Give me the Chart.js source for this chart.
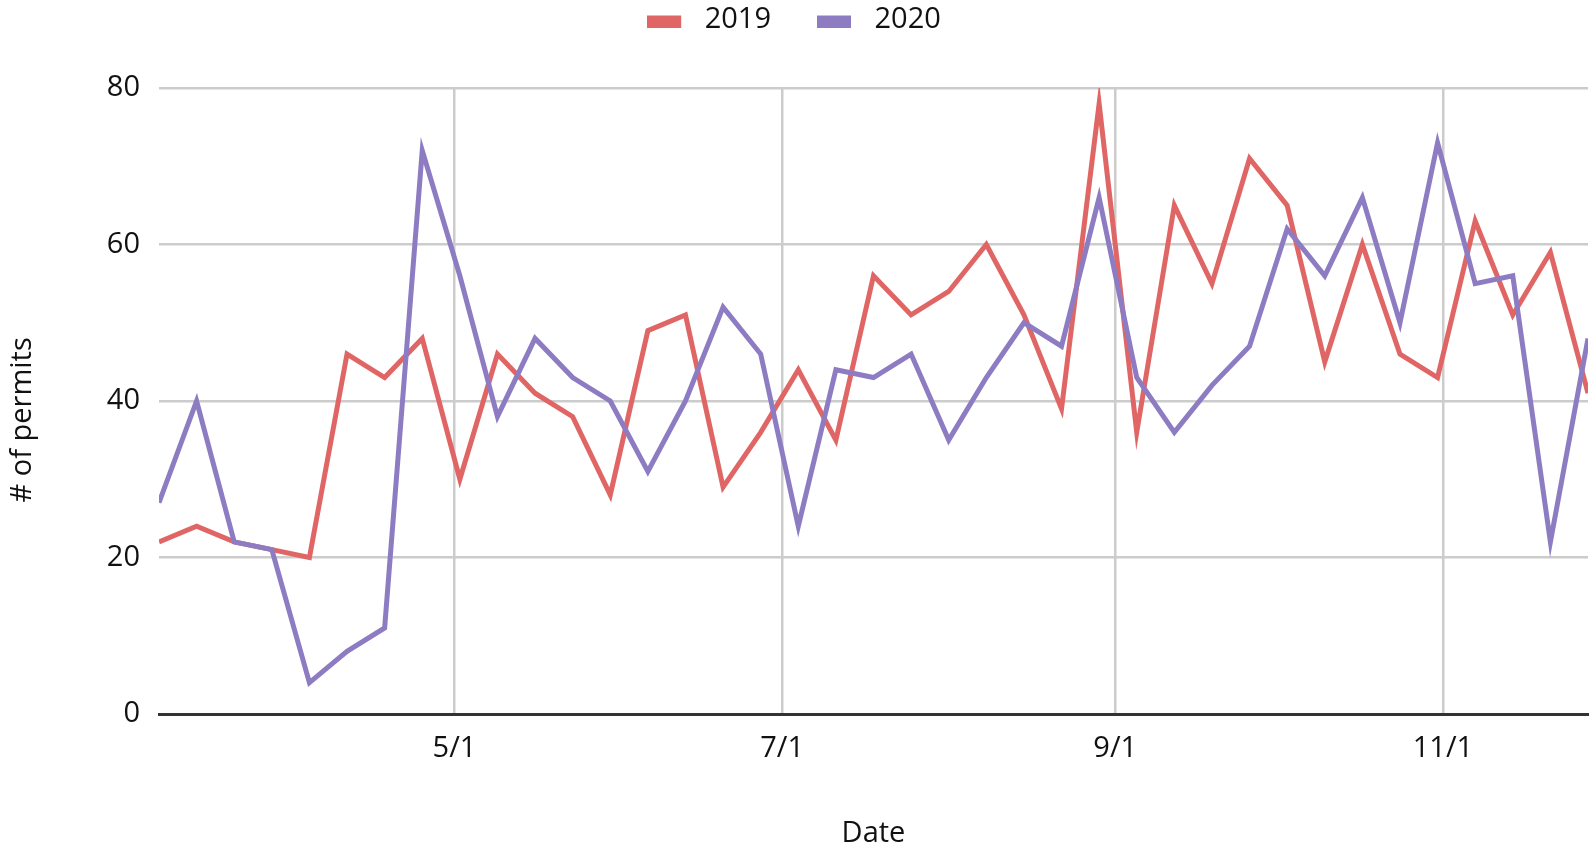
<!DOCTYPE html>
<html>
<head>
<meta charset="utf-8">
<script src="https://cdn.jsdelivr.net/npm/chart.js@4.4.1/dist/chart.umd.min.js"></script>
<style>
html, body { margin: 0; padding: 0; background: #ffffff; }
#wrap { width: 1589px; height: 851px; }
</style>
</head>
<body>
<div id="wrap"><canvas id="c" width="1589" height="851"></canvas></div>
<script>
// ---- data ----
const weekDates = ['3/7','3/14','3/21','3/28','4/4','4/11','4/18','4/25','5/2','5/9','5/16','5/23','5/30',
  '6/6','6/13','6/20','6/27','7/4','7/11','7/18','7/25','8/1','8/8','8/15','8/22','8/29',
  '9/5','9/12','9/19','9/26','10/3','10/10','10/17','10/24','10/31','11/7','11/14','11/21','11/28'];
const permits2019 = [22,24,22,21,20,46,43,48,30,46,41,38,28,49,51,29,36,44,35,56,51,54,60,51,39,78,36,65,55,71,65,45,60,46,43,63,51,59,41];
const permits2020 = [27,40,22,21,4,8,11,72,56,38,48,43,40,31,40,52,46,24,44,43,46,35,43,50,47,66,43,36,42,47,62,56,66,50,73,55,56,22,48];
const seriesLabels = ['2019', '2020'];
const xTickLabels = ['5/1','7/1','9/1','11/1'];
const yTickValues = [0,20,40,60,80];

// ---- helpers ----
const monthStart = [0,31,59,90,120,151,181,212,243,273,304,334];
function dayNum(s) { const p = s.split('/'); return monthStart[+p[0]-1] + (+p[1]); }
const xTickValues = xTickLabels.map(dayNum);

const RED = '#e06666', PURPLE = '#8e7cc3';
const FONT = "'Open Sans', 'Noto Sans', sans-serif";
const TXT = '#111111';

function swatch(color) {
  const c = document.createElement('canvas');
  c.width = 43; c.height = 16;
  const g = c.getContext('2d');
  g.fillStyle = color;
  g.fillRect(0, 4, 34, 12);
  return c;
}

Chart.defaults.font.family = FONT;
Chart.defaults.font.size = 29;
Chart.defaults.color = TXT;

const legendTweak = {
  id: 'legendTweak',
  beforeInit(chart) {
    const origFit = chart.legend.fit;
    chart.legend.fit = function () {
      origFit.call(this);
      this.height = 88;
    };
  },
  afterLayout(chart) {
    chart.legend.top = -41;
    chart.legend.bottom = chart.legend.top + chart.legend.height;
  }
};

new Chart(document.getElementById('c'), {
  type: 'line',
  data: {
    datasets: [
      {
        label: seriesLabels[0],
        data: weekDates.map((d, i) => ({ x: dayNum(d), y: permits2019[i] })),
        borderColor: RED, backgroundColor: RED, borderWidth: 5,
        pointRadius: 0, pointHoverRadius: 0, tension: 0,
        pointStyle: swatch(RED), order: 1
      },
      {
        label: seriesLabels[1],
        data: weekDates.map((d, i) => ({ x: dayNum(d), y: permits2020[i] })),
        borderColor: PURPLE, backgroundColor: PURPLE, borderWidth: 5,
        pointRadius: 0, pointHoverRadius: 0, tension: 0,
        pointStyle: swatch(PURPLE), order: 0
      }
    ]
  },
  options: {
    responsive: false,
    animation: false,
    devicePixelRatio: 1,
    layout: { padding: { left: 0, right: 1, top: 0, bottom: 0 } },
    plugins: {
      tooltip: { enabled: false },
      legend: {
        position: 'top',
        labels: {
          usePointStyle: true,
          pointStyleWidth: 43,
          padding: 46,
          color: TXT,
          font: { size: 29 },
          sort: (a, b) => a.datasetIndex - b.datasetIndex
        }
      }
    },
    scales: {
      x: {
        type: 'linear',
        min: dayNum(weekDates[0]),
        max: dayNum(weekDates[weekDates.length - 1]),
        afterBuildTicks: (axis) => { axis.ticks = xTickValues.map(v => ({ value: v })); },
        afterFit: (axis) => { axis.height = 137; },
        ticks: {
          autoSkip: false, maxRotation: 0, padding: 17, color: TXT,
          font: { size: 29 },
          callback: (v) => { const i = xTickValues.indexOf(v); return i >= 0 ? xTickLabels[i] : ''; }
        },
        grid: { color: '#cccccc', lineWidth: 2.5, drawTicks: false },
        border: { display: true, color: '#333333', width: 3 },
        title: { display: true, text: 'Date', color: TXT, font: { size: 29 }, padding: { top: 0, bottom: 0 } }
      },
      y: {
        min: 0, max: 80,
        afterBuildTicks: (axis) => { axis.ticks = yTickValues.map(v => ({ value: v })); },
        afterFit: (axis) => { axis.width = 159; },
        ticks: { padding: 19, color: TXT, font: { size: 29 } },
        grid: {
          color: (ctx) => (ctx.tick && ctx.tick.value === 0) ? 'rgba(0,0,0,0)' : '#cccccc',
          lineWidth: 2.5, drawTicks: false
        },
        border: { display: false },
        title: { display: true, text: '# of permits     ', color: TXT, font: { size: 29 }, padding: { top: 5, bottom: 0 } }
      }
    }
  },
  plugins: [legendTweak]
});
</script>
</body>
</html>
